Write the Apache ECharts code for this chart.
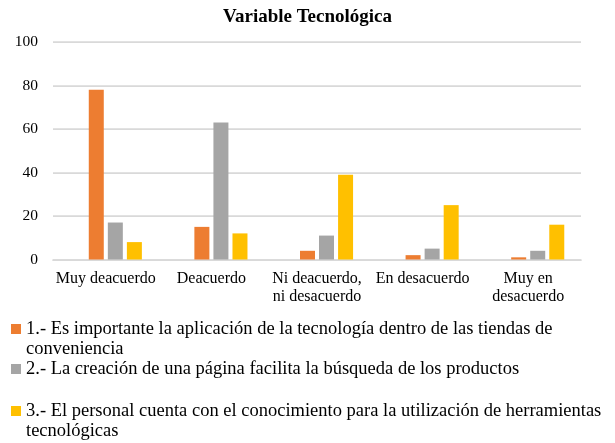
<!DOCTYPE html>
<html>
<head>
<meta charset="utf-8">
<script src="https://cdn.jsdelivr.net/npm/echarts@6/dist/echarts.min.js"></script>
<style>
  html, body { margin: 0; padding: 0; background: #fff; }
  #chart { width: 615px; height: 443px; }
</style>
</head>
<body>
<div id="chart"></div>
<script>
const categories = [
  "Muy deacuerdo",
  "Deacuerdo",
  "Ni deacuerdo,\nni desacuerdo",
  "En desacuerdo",
  "Muy en\ndesacuerdo"
];
const seriesNames = [
  "1.- Es importante la aplicación de la tecnología dentro de las tiendas de conveniencia",
  "2.- La creación de una página facilita la búsqueda de los productos",
  "3.- El personal cuenta con el conocimiento para la utilización de herramientas tecnológicas"
];
const importanteValues = [78, 15, 4, 2, 1];
const paginaValues = [17, 63, 11, 5, 4];
const personalValues = [8, 12, 39, 25, 16];
// excel left an empty first series, keeps the bars shifted right
const emptyValues = [null, null, null, null, null];
const yTicks = [0, 20, 40, 60, 80, 100];

const colors = ["#ED7D31", "#A5A5A5", "#FFC000"];
const font = "'Liberation Serif', 'Times New Roman', serif";

const chart = echarts.init(document.getElementById("chart"));

// one legend per item so each can sit where the original put it
function legendAt(top, name, wraps) {
  return {
    orient: "vertical",
    left: 11,
    top: top,
    padding: 0,
    icon: "rect",
    itemWidth: 10,
    itemHeight: 10,
    selectedMode: false,
    data: [name],
    // leading blank line keeps the icon level with the first text line
    formatter: wraps ? (n) => "\n" + n : (n) => n,
    textStyle: {
      fontFamily: font,
      fontSize: 18.5,
      color: "#000",
      width: 600,
      overflow: "break",
      lineHeight: 20
    }
  };
}

function bar(name, data, color) {
  return {
    name: name,
    type: "bar",
    data: data,
    barWidth: 15,
    barGap: "27%",
    itemStyle: { color: color }
  };
}

chart.setOption({
  animation: false,
  title: {
    text: "Variable Tecnológica",
    left: "center",
    top: 3,
    textStyle: { fontFamily: font, fontSize: 19, fontWeight: "bold", color: "#000" }
  },
  grid: { left: 53, right: 34, top: 42, bottom: 183.5 },
  legend: [
    legendAt(299, seriesNames[0], true),
    legendAt(359, seriesNames[1], false),
    legendAt(381, seriesNames[2], true)
  ],
  xAxis: {
    type: "category",
    data: categories,
    axisTick: { show: false },
    axisLine: { lineStyle: { color: "#D9D9D9", width: 1.75 } },
    axisLabel: {
      fontFamily: font, fontSize: 16, color: "#000",
      margin: 10, lineHeight: 18, interval: 0
    }
  },
  yAxis: {
    type: "value",
    min: yTicks[0],
    max: yTicks[yTicks.length - 1],
    interval: 20,
    axisLine: { show: false },
    axisTick: { show: false },
    splitLine: { lineStyle: { color: "#D9D9D9", width: 1.75 } },
    axisLabel: { fontFamily: font, fontSize: 15.5, color: "#000", margin: 15 }
  },
  series: [
    bar("", emptyValues, "#4472C4"),
    bar(seriesNames[0], importanteValues, colors[0]),
    bar(seriesNames[1], paginaValues, colors[1]),
    bar(seriesNames[2], personalValues, colors[2])
  ]
});
</script>
</body>
</html>
